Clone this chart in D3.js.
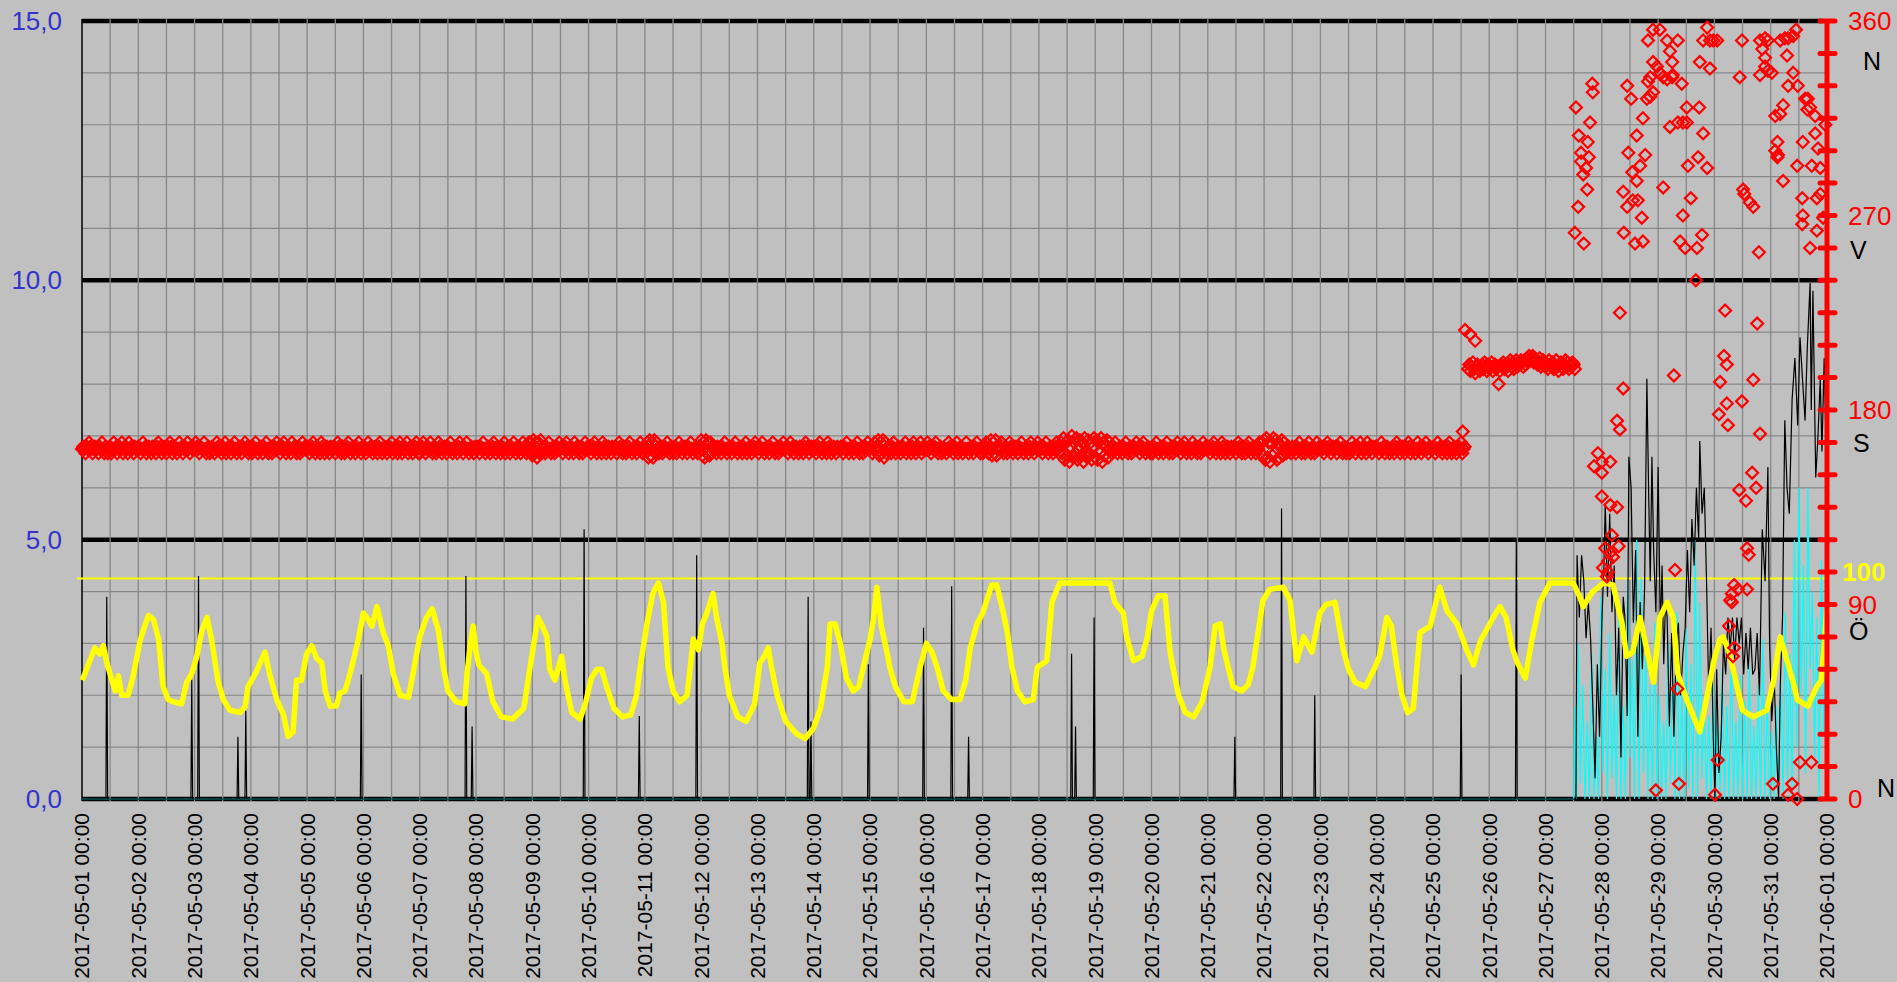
<!DOCTYPE html>
<html>
<head>
<meta charset="utf-8">
<script src="https://cdn.jsdelivr.net/npm/d3@7"></script>
<style>
body { margin: 0; background: #c0c0c0; }
svg { display: block; }
text { font-family: "Liberation Sans", Arial, sans-serif; }
</style>
</head>
<body>
<svg id="chart" width="1897" height="982"></svg>
<script>
// ---- data (time = days after 2017-05-01 00:00) ----
var dateLabels = ["2017-05-01 00:00","2017-05-02 00:00","2017-05-03 00:00","2017-05-04 00:00","2017-05-05 00:00",
  "2017-05-06 00:00","2017-05-07 00:00","2017-05-08 00:00","2017-05-09 00:00","2017-05-10 00:00","2017-05-11 00:00",
  "2017-05-12 00:00","2017-05-13 00:00","2017-05-14 00:00","2017-05-15 00:00","2017-05-16 00:00","2017-05-17 00:00",
  "2017-05-18 00:00","2017-05-19 00:00","2017-05-20 00:00","2017-05-21 00:00","2017-05-22 00:00","2017-05-23 00:00",
  "2017-05-24 00:00","2017-05-25 00:00","2017-05-26 00:00","2017-05-27 00:00","2017-05-28 00:00","2017-05-29 00:00",
  "2017-05-30 00:00","2017-05-31 00:00","2017-06-01 00:00"];
var speedTicks = [0, 5, 10, 15];
var speedMinor = [1, 2, 3, 4, 6, 7, 8, 9, 11, 12, 13, 14];
var dirTicks = [0, 90, 180, 270, 360];
var dirMinor = [0,15,30,45,60,75,90,105,120,135,150,165,180,195,210,225,240,255,270,285,300,315,330,345,360];
var compass = ["N", "Ö", "S", "V", "N"]; // for 0, 90, 180, 270, 360
var humRef = 102, humRefLabel = "100";

// humidity %, drawn on the 0-360 axis
var humidity = [
[0.006,55],[0.08,60],[0.23,70],[0.32,67],[0.38,71],[0.44,63],[0.59,50],[0.645,57],[0.705,48],[0.82,48],[0.91,57],[0.97,65],
[1.03,73],[1.09,78],[1.18,85],[1.27,83],[1.36,74],[1.44,52],[1.53,46],[1.62,45],[1.77,44],[1.86,54],[1.95,58],[2.04,66],
[2.13,78],[2.22,84],[2.30,74],[2.42,54],[2.51,46],[2.63,41],[2.81,40],[2.90,43],[2.95,52],[3.10,59],[3.25,68],[3.34,57],
[3.46,46],[3.58,39],[3.66,29],[3.75,31],[3.81,55],[3.90,55],[3.99,67],[4.08,71],[4.17,65],[4.26,63],[4.32,50],[4.41,43],
[4.52,43],[4.58,49],[4.67,50],[4.73,55],[4.82,64],[4.91,74],[5.00,86],[5.06,84],[5.15,80],[5.24,89],[5.35,77],[5.44,71],
[5.53,58],[5.65,48],[5.8,47],[5.88,58],[6.0,75],[6.12,84],[6.22,88],[6.33,78],[6.42,61],[6.5,50],[6.65,45],[6.8,44],
[6.84,58],[6.9,72],[6.95,80],[7.0,68],[7.05,62],[7.19,58],[7.3,45],[7.45,38],[7.65,37],[7.85,42],[7.96,61],[8.1,84],
[8.18,80],[8.26,75],[8.31,60],[8.4,55],[8.52,66],[8.58,55],[8.7,40],[8.85,37],[8.95,45],[9.05,56],[9.15,60],[9.23,60],
[9.32,52],[9.45,42],[9.6,38],[9.75,39],[9.85,48],[9.91,60],[10.03,80],[10.14,95],[10.24,100],[10.33,91],[10.41,61],
[10.5,50],[10.62,45],[10.75,48],[10.86,74],[10.95,69],[11.02,81],[11.1,86],[11.21,95],[11.28,83],[11.37,72],[11.42,61],
[11.5,48],[11.65,38],[11.8,36],[11.95,44],[12.04,63],[12.12,66],[12.19,70],[12.25,61],[12.35,48],[12.5,36],[12.7,30],
[12.85,28],[13.0,33],[13.12,42],[13.24,61],[13.29,81],[13.38,81],[13.47,72],[13.58,56],[13.7,50],[13.8,52],[13.88,61],
[14.0,74],[14.06,83],[14.12,98],[14.2,80],[14.3,68],[14.35,61],[14.45,52],[14.6,45],[14.75,45],[14.89,61],[15.0,72],
[15.1,68],[15.19,61],[15.3,50],[15.45,46],[15.6,46],[15.7,55],[15.78,70],[15.9,81],[16.0,86],[16.16,99],[16.25,99],
[16.36,87],[16.44,77],[16.52,61],[16.62,50],[16.75,45],[16.9,46],[16.97,61],[17.14,64],[17.23,91],[17.37,100],[18.26,100],
[18.35,91],[18.5,86],[18.56,75],[18.68,64],[18.83,66],[18.92,74],[19.0,87],[19.12,94],[19.24,94],[19.33,68],[19.38,61],
[19.48,48],[19.6,40],[19.75,38],[19.9,45],[20.04,61],[20.13,80],[20.22,81],[20.28,70],[20.36,61],[20.45,52],[20.6,50],
[20.72,53],[20.8,61],[20.98,92],[21.1,97],[21.34,98],[21.46,92],[21.58,64],[21.7,75],[21.85,68],[21.99,86],[22.1,90],
[22.26,91],[22.4,70],[22.5,60],[22.62,54],[22.8,52],[22.97,61],[23.05,66],[23.18,84],[23.26,80],[23.36,61],[23.45,48],
[23.55,40],[23.65,42],[23.77,77],[23.95,80],[24.12,98],[24.25,87],[24.43,81],[24.6,69],[24.72,62],[24.84,73],[25.07,84],
[25.19,89],[25.3,84],[25.42,69],[25.5,63],[25.64,56],[25.76,74],[25.9,91],[26.08,100],[26.49,100],[26.6,94],[26.67,89],
[26.76,93],[26.84,96],[27.03,100],[27.2,99],[27.36,81],[27.44,66],[27.55,68],[27.68,84],[27.8,69],[27.92,54],[28.03,84],
[28.16,91],[28.27,84],[28.35,58],[28.45,50],[28.6,40],[28.74,31],[28.85,45],[29.0,65],[29.1,74],[29.15,75],[29.25,69],
[29.35,58],[29.5,41],[29.69,38],[29.93,41],[30.05,55],[30.17,75],[30.29,64],[30.4,54],[30.47,46],[30.66,43],[30.82,52],
[30.9,55],[31.0,88]];

// wind speed m/s (left axis)
var speed = [
[0,0],[0.425,0],[0.44,3.9],[0.455,0],[1.935,0],[1.95,2.3],[1.965,0],[2.055,0],[2.07,4.3],[2.085,0],[2.755,0],[2.77,1.2],
[2.785,0],[2.895,0],[2.91,1.7],[2.925,0],[4.945,0],[4.96,2.4],[4.975,0],[6.805,0],[6.82,4.3],[6.835,0],[6.915,0],[6.93,1.4],
[6.945,0],[8.905,0],[8.92,5.2],[8.935,0],[9.885,0],[9.9,1.6],[9.915,0],[10.905,0],[10.92,4.7],[10.935,0],[12.885,0],
[12.9,3.9],[12.915,0],[12.935,0],[12.95,1.5],[12.965,0],[13.955,0],[13.97,2.6],[13.985,0],[14.935,0],[14.95,3.3],
[14.965,0],[15.435,0],[15.45,4.1],[15.465,0],[15.735,0],[15.75,1.2],[15.765,0],[17.565,0],[17.58,2.8],[17.595,0],
[17.635,0],[17.65,1.4],[17.665,0],[17.965,0],[17.98,3.5],[17.995,0],[20.465,0],[20.48,1.2],[20.495,0],[21.295,0],
[21.31,5.6],[21.325,0],[21.885,0],[21.9,2.0],[21.915,0],[24.485,0],[24.5,2.4],[24.515,0],[25.465,0],[25.48,4.96],
[25.495,0],[26.54,0],[26.56,4.7],[26.6,3.5],[26.64,4.7],[26.68,4.2],[26.72,3.1],[26.76,3.8],[26.8,3.1],[26.84,1.8],
[26.88,0.4],[26.92,2.6],[26.96,1.2],[27.0,3.4],[27.04,4.6],[27.06,5.7],[27.1,3.9],[27.14,5.5],[27.18,3.6],[27.22,4.5],
[27.26,2.0],[27.3,3.3],[27.34,0.8],[27.38,3.9],[27.41,3.5],[27.45,1.6],[27.48,6.6],[27.52,6.0],[27.56,3.4],[27.6,4.8],
[27.64,1.2],[27.68,3.8],[27.72,2.5],[27.76,4.1],[27.8,8.1],[27.83,6.0],[27.86,4.2],[27.89,6.6],[27.92,4.8],[27.96,3.6],
[28.0,6.4],[28.04,3.2],[28.07,4.5],[28.1,2.6],[28.13,3.8],[28.16,3.5],[28.2,1.4],[28.24,3.2],[28.28,1.2],[28.32,2.9],
[28.36,3.4],[28.4,2.0],[28.44,2.8],[28.48,3.3],[28.52,4.8],[28.56,3.6],[28.6,5.4],[28.64,4.5],[28.68,6.0],[28.72,5.0],
[28.74,6.9],[28.78,5.5],[28.82,6.0],[28.86,4.2],[28.9,2.0],[28.94,3.3],[28.98,1.2],[29.01,0],[29.04,2.5],[29.08,0.5],
[29.12,1.2],[29.16,3.0],[29.2,2.4],[29.24,3.5],[29.28,2.9],[29.32,3.5],[29.36,2.7],[29.4,3.5],[29.44,3.0],[29.48,3.5],
[29.52,2.4],[29.56,3.2],[29.6,2.5],[29.64,3.3],[29.68,2.4],[29.72,2.5],[29.76,3.2],[29.8,2.0],[29.85,5.2],[29.9,4.2],
[29.95,6.4],[29.98,3.0],[30.02,1.5],[30.06,2.4],[30.1,1.0],[30.14,0],[30.17,2.2],[30.21,3.5],[30.25,7.3],[30.29,6.0],
[30.33,5.5],[30.38,7.7],[30.43,8.5],[30.48,7.2],[30.52,8.9],[30.57,8.0],[30.61,7.3],[30.65,8.7],[30.7,9.95],[30.72,7.5],
[30.75,9.8],[30.8,6.2],[30.84,7.0],[30.88,8.1],[30.91,6.7],[30.95,8.5],[30.98,7.0],[31.0,6.5]];

// gust m/s (left axis), zero until the last days
var gust = [
[0,0],[26.5,0],[26.52,1.8],[26.55,0],[26.58,3.0],[26.62,0.3],[26.66,2.2],[26.7,0],[26.74,1.5],[26.78,0],[26.82,2.8],
[26.86,0],[26.9,1.2],[26.94,0],[26.98,3.9],[27.02,0.5],[27.06,2.5],[27.1,0],[27.14,3.2],[27.18,0.4],[27.22,2.0],[27.26,0],
[27.3,3.5],[27.34,0],[27.38,1.8],[27.42,0],[27.46,4.2],[27.5,0.8],[27.54,2.7],[27.58,0],[27.62,5.0],[27.66,0],[27.7,4.26],
[27.74,0.5],[27.78,3.0],[27.82,0],[27.86,2.2],[27.9,0],[27.94,3.4],[27.98,0],[28.02,2.0],[28.06,0],[28.1,1.5],[28.14,0],
[28.18,3.0],[28.22,0.3],[28.26,2.4],[28.3,0],[28.34,3.6],[28.38,0],[28.42,2.1],[28.46,0],[28.5,3.3],[28.54,0.2],[28.58,2.6],
[28.62,0],[28.66,5.0],[28.7,0],[28.74,3.8],[28.78,0.4],[28.82,2.0],[28.86,0],[28.9,1.6],[28.94,0],[28.98,2.2],[29.02,0],
[29.06,1.4],[29.1,0],[29.14,2.5],[29.18,0],[29.22,1.8],[29.26,0],[29.3,2.9],[29.34,0],[29.38,1.5],[29.42,0],[29.46,2.4],
[29.5,0],[29.54,1.9],[29.58,0],[29.62,2.6],[29.66,0],[29.7,1.4],[29.74,0],[29.78,2.2],[29.82,0],[29.86,3.1],[29.9,0],
[29.94,2.0],[29.98,0],[30.02,1.3],[30.06,0],[30.1,1.8],[30.14,0],[30.18,2.4],[30.22,0],[30.26,3.6],[30.3,0.3],[30.34,2.8],
[30.38,0],[30.42,5.0],[30.46,1.0],[30.5,6.0],[30.54,2.0],[30.58,4.5],[30.62,0.5],[30.66,6.0],[30.7,2.5],[30.74,4.0],
[30.78,0.8],[30.82,3.5],[30.86,0],[30.9,4.6],[30.94,1.2],[30.98,3.0],[31.0,0]];

// wind direction every 30 min from 2017-05-01 00:00 (degrees), one row per day
var dirBand = [
162,163,162,160,163,162,165,163,162,160,162,163,162,162,160,163,162,165,162,160,163,162,160,162,163,160,162,165,162,163,160,162,163,162,165,160,162,163,162,160,165,162,163,162,160,163,162,162,
163,162,160,162,165,162,163,160,162,163,162,160,163,162,162,160,163,165,162,163,160,162,163,162,160,163,162,165,163,160,162,163,162,160,162,165,162,163,160,162,163,162,165,162,160,163,162,163,
162,165,163,162,160,163,162,162,165,162,160,162,163,160,162,163,162,160,162,165,163,162,162,160,163,162,165,160,162,163,162,160,163,162,165,162,160,162,163,162,160,163,162,165,162,163,160,162,
162,160,163,162,165,162,160,162,163,162,160,163,162,165,162,160,162,163,160,162,163,162,165,162,163,160,162,163,165,162,160,162,163,162,160,165,162,163,162,160,162,163,160,162,165,162,163,162,
163,162,160,162,163,165,162,160,163,162,162,160,165,163,162,160,162,163,162,160,163,162,162,163,160,162,165,163,162,160,163,162,160,162,163,165,162,160,162,163,162,160,163,162,165,162,160,163,
162,163,160,162,165,162,163,162,160,162,163,162,160,163,165,162,160,162,163,162,160,162,163,162,165,160,162,163,162,160,163,165,162,160,162,163,162,165,160,162,163,162,160,162,163,165,162,160,
160,162,163,165,162,160,162,163,162,165,162,160,163,162,160,162,165,163,162,160,162,163,162,160,163,162,165,162,160,162,163,162,160,163,165,162,162,160,163,162,165,162,160,162,163,162,160,163,
162,163,162,160,163,162,165,162,160,162,163,162,160,162,163,165,162,160,163,162,162,160,163,162,165,160,162,163,162,160,163,162,165,162,160,163,162,163,160,162,165,162,163,160,162,165,165,160,
159,166,160,165,158,165,160,166,160,163,162,160,163,162,165,162,160,162,163,160,162,163,162,165,162,163,160,162,163,165,162,160,162,163,162,160,165,162,163,162,160,162,163,160,162,165,162,163,
163,162,160,162,163,165,162,160,163,162,162,160,165,163,162,160,162,163,162,160,163,162,162,163,160,162,165,163,162,160,163,162,160,162,163,165,162,160,162,163,162,160,163,162,165,162,160,162,
163,162,165,158,166,159,165,158,166,160,165,162,160,163,162,160,162,163,162,165,162,160,163,162,160,162,163,160,162,165,162,163,160,162,163,162,160,163,162,165,162,160,162,163,162,160,163,162,
166,159,165,158,166,160,165,159,165,160,162,163,162,160,163,162,162,160,163,162,165,162,160,162,163,162,160,163,162,165,162,160,162,163,162,160,163,162,165,160,162,163,162,160,162,163,165,162,
162,160,163,162,165,162,160,162,163,162,160,163,162,165,162,160,162,163,160,162,163,162,165,162,162,163,160,162,165,162,163,160,162,163,162,160,163,162,162,160,163,165,162,163,160,162,163,162,
163,162,160,162,163,165,162,160,163,162,162,160,165,163,162,160,162,163,162,160,163,162,162,163,162,160,163,162,165,162,160,162,163,162,160,163,162,165,162,160,162,163,160,162,163,162,165,162,
162,163,160,162,165,162,163,166,159,165,160,166,158,165,160,162,163,162,160,163,165,162,160,162,163,162,160,162,163,162,165,160,162,163,162,160,163,165,162,160,162,163,162,165,160,162,163,162,
162,165,163,162,160,163,162,163,165,162,160,162,163,160,162,162,162,160,162,165,163,162,163,160,163,162,165,160,162,163,162,160,162,162,165,162,160,162,163,162,160,163,162,165,162,162,160,162,
160,162,163,165,162,160,162,166,159,165,160,166,159,162,163,162,165,162,160,163,162,160,162,165,163,162,160,162,163,162,160,163,162,165,162,160,162,163,162,160,163,165,162,162,160,163,162,165,
162,163,162,160,163,162,165,162,160,162,163,162,160,162,163,165,162,160,163,165,160,167,157,165,159,166,156,163,168,158,165,160,167,157,162,166,159,165,156,167,160,158,166,160,165,157,163,167,
158,166,157,165,160,167,156,165,159,163,166,158,165,162,160,163,162,165,162,160,162,163,162,160,163,162,165,162,160,162,163,160,162,163,162,165,162,163,160,162,163,165,162,160,162,163,162,160,
162,160,163,162,165,162,160,162,163,162,160,163,162,165,162,160,162,163,160,162,163,162,165,162,163,160,162,163,165,162,160,162,163,162,160,165,162,163,162,160,162,163,160,162,165,162,163,162,
163,162,160,162,163,165,162,160,163,162,162,160,165,163,162,160,162,163,162,160,163,162,162,163,160,162,165,163,162,160,163,162,160,162,163,165,162,160,162,163,162,160,163,162,165,160,165,159,
166,157,167,158,165,156,165,159,167,160,166,157,165,158,163,166,159,165,162,160,162,163,162,160,163,162,162,160,163,162,165,162,160,163,162,160,163,162,165,162,160,162,163,160,162,165,162,163,
162,163,162,160,163,162,165,163,162,160,162,163,162,163,160,163,162,165,162,160,163,162,160,162,162,160,162,165,162,163,160,162,163,162,165,160,162,163,162,160,165,162,163,162,160,163,162,163,
163,162,160,162,165,162,163,160,162,163,162,160,162,162,162,160,163,165,162,163,160,162,163,162,160,163,162,165,163,160,162,162,162,160,162,165,162,163,160,162,163,162,165,162,160,163,162,162,
162,163,160,162,165,162,163,162,160,162,163,162,160,163,165,162,160,162,163,162,160,162,163,162,165,160,162,163];

// wind direction every 30 min after the shift, from day 24.625
var dirShift = [
199,201,198,200,202,199,197,200,201,199,198,200,201,199,202,200,198,201,199,200,202,198,200,201,
199,200,192,198,201,200,202,199,201,200,198,201,203,200,202,199,201,203,200,202,201,203,202,200,
203,201,204,202,205,203,204,205,202,204,203,201,202,204,200,201,203,202,200,201,199,203,201,200,
202,199,201,203,200,198,201,202,200,199,201,203,200,202,199,201,200,202,201,199];

// wind direction, single readings [day, degrees]
var dirLate = [
[24.53,170],[24.57,217],[24.66,215],[24.75,212],
[26.52,262],[26.54,320],[26.58,274],[26.59,307],[26.63,299],[26.63,295],[26.67,289],[26.68,257],[26.72,292],[26.74,282],
[26.75,304],[26.77,297],[26.79,313],[26.83,331],[26.84,327],[26.86,154],[26.93,160],[27.0,156],[27.0,151],[27.0,140],
[27.02,107],[27.06,116],[27.09,103],[27.11,110],[27.11,105],[27.15,156],[27.15,136],[27.15,114],[27.18,122],[27.2,112],
[27.27,175],[27.27,135],[27.3,117],[27.32,225],[27.32,171],[27.38,190],[27.38,281],[27.39,262],[27.45,330],[27.45,274],
[27.47,299],[27.52,324],[27.54,290],[27.55,277],[27.59,257],[27.62,307],[27.62,286],[27.64,277],[27.68,293],[27.71,269],
[27.73,315],[27.73,258],[27.77,298],[27.8,324],[27.82,332],[27.82,351],[27.86,325],[27.86,334],[27.91,327],[27.91,356],
[27.91,341],[27.96,4],[27.98,339],[28.03,356],[28.03,336],[28.09,334],[28.09,283],[28.16,333],[28.16,351],[28.21,346],
[28.21,311],[28.25,334],[28.25,341],[28.26,335],[28.28,196],[28.3,106],[28.34,51],[28.35,351],[28.35,313],[28.37,7],
[28.39,258],[28.42,331],[28.44,313],[28.44,270],[28.48,255],[28.51,313],[28.51,320],[28.53,293],[28.58,278],[28.67,240],
[28.69,255],[28.71,297],[28.73,320],[28.74,341],[28.78,261],[28.8,308],[28.8,351],[28.87,292],[28.87,357],[28.92,338],
[28.92,351],[28.98,351],[29.01,2],[29.05,351],[29.06,18],[29.08,178],[29.1,193],[29.17,205],[29.19,226],[29.22,201],
[29.22,183],[29.24,173],[29.26,80],[29.28,92],[29.31,95],[29.31,91],[29.33,66],[29.35,99],[29.35,70],[29.42,97],
[29.44,143],[29.45,334],[29.49,184],[29.49,351],[29.51,282],[29.53,280],[29.56,138],[29.58,116],[29.58,97],[29.61,113],
[29.63,276],[29.67,151],[29.69,194],[29.69,274],[29.74,144],[29.76,220],[29.79,253],[29.81,169],[29.81,351],[29.81,335],
[29.85,347],[29.9,352],[29.9,343],[29.9,339],[29.95,351],[29.95,337],[30.02,336],[30.04,7],[30.08,316],[30.08,300],
[30.12,304],[30.12,297],[30.13,298],[30.17,351],[30.17,317],[30.22,321],[30.22,286],[30.25,352],[30.29,344],[30.31,352],
[30.31,330],[30.31,2],[30.38,7],[30.4,353],[30.4,336],[30.45,356],[30.47,293],[30.47,0],[30.48,330],[30.52,17],[30.56,278],
[30.56,266],[30.57,304],[30.57,270],[30.61,324],[30.65,319],[30.66,324],[30.7,320],[30.7,255],[30.72,17],[30.73,293],
[30.79,316],[30.79,308],[30.82,278],[30.82,263],[30.84,301],[30.88,292],[30.88,280],[30.93,269],[30.97,312]];

// ---- drawing ----
var svg = d3.select("#chart");
var t0 = Date.UTC(2017, 4, 1);
function day(d) { return new Date(t0 + d * 864e5); }
var parse = d3.utcParse("%Y-%m-%d %H:%M");

var plotL = 82, plotR = 1827, plotT = 21, plotB = 799;
var x = d3.scaleUtc().domain([parse(dateLabels[0]), parse(dateLabels[dateLabels.length - 1])]).range([plotL, plotR]);
var yS = d3.scaleLinear().domain([0, 15]).range([plotB, plotT]);
var yD = d3.scaleLinear().domain([0, 360]).range([plotB, plotT]);

// thick black lines at 0,5,10,15
svg.append("g").selectAll("line").data(speedTicks).enter().append("line")
  .attr("x1", plotL).attr("x2", plotR - 4)
  .attr("y1", function(d) { return yS(d); }).attr("y2", function(d) { return yS(d); })
  .attr("stroke", "#000").attr("stroke-width", 4.5);

// minor horizontal grid
svg.append("g").selectAll("line").data(speedMinor).enter().append("line")
  .attr("x1", plotL).attr("x2", plotR)
  .attr("y1", function(d) { return yS(d); }).attr("y2", function(d) { return yS(d); })
  .attr("stroke", "#878787").attr("stroke-width", 1.2);

// vertical grid every 12 hours (drawn across the black lines)
var halfDays = d3.utcHour.every(12).range(x.domain()[0], new Date(+x.domain()[1] + 1));
svg.append("g").selectAll("line").data(halfDays.slice(1)).enter().append("line")
  .attr("x1", function(d) { return x(d); }).attr("x2", function(d) { return x(d); })
  .attr("y1", plotT - 2).attr("y2", plotB + 2)
  .attr("stroke", "#878787").attr("stroke-width", 1.3);

// left axis line
svg.append("line").attr("x1", plotL).attr("x2", plotL).attr("y1", plotT - 2).attr("y2", plotB + 2)
  .attr("stroke", "#000").attr("stroke-width", 1.5);

// humidity 100 reference line
svg.append("line").attr("x1", plotL - 5).attr("x2", plotR - 2)
  .attr("y1", yD(humRef)).attr("y2", yD(humRef))
  .attr("stroke", "#ffff00").attr("stroke-width", 2);

var lineS = d3.line().x(function(d) { return x(day(d[0])); }).y(function(d) { return yS(d[1]); });
var lineD = d3.line().x(function(d) { return x(day(d[0])); }).y(function(d) { return yD(d[1]); });

svg.append("path").attr("d", lineS(gust)).attr("fill", "none")
  .attr("stroke", "#00ffff").attr("stroke-width", 1.2);
svg.append("path").attr("d", lineS(speed)).attr("fill", "none")
  .attr("stroke", "#000").attr("stroke-width", 1.2);
svg.append("path").attr("d", lineD(humidity)).attr("fill", "none")
  .attr("stroke", "#ffff00").attr("stroke-width", 5.5).attr("stroke-linejoin", "round");

// wind direction diamonds
var dirPoints = dirBand.map(function(v, i) { return [i / 48, v]; })
  .concat(dirShift.map(function(v, i) { return [24.625 + i / 48, v]; }))
  .concat(dirLate);
var diamond = d3.symbol().type(d3.symbolDiamond2).size(90);
svg.append("g").selectAll("path").data(dirPoints).enter().append("path")
  .attr("transform", function(d) { return "translate(" + x(day(d[0])) + "," + yD(d[1]) + ")"; })
  .attr("d", diamond)
  .attr("fill", "none").attr("stroke", "#ff0000").attr("stroke-width", 2.2);

// right (direction) axis
svg.append("line").attr("x1", plotR).attr("x2", plotR).attr("y1", plotT).attr("y2", plotB)
  .attr("stroke", "#ff0000").attr("stroke-width", 5);
svg.append("g").selectAll("line").data(dirMinor).enter().append("line")
  .attr("x1", plotR - 7).attr("x2", plotR + 8)
  .attr("y1", function(d) { return yD(d); }).attr("y2", function(d) { return yD(d); })
  .attr("stroke", "#ff0000").attr("stroke-width", 5).attr("stroke-linecap", "round");

// left labels
svg.append("g").selectAll("text").data(speedTicks).enter().append("text")
  .attr("x", 62).attr("y", function(d) { return yS(d); }).attr("dy", "0.35em")
  .attr("text-anchor", "end").attr("font-size", 26).attr("fill", "#3333cc")
  .text(function(d) { return d3.format(".1f")(d).replace(".", ","); });

// right labels
svg.append("g").selectAll("text").data(dirTicks).enter().append("text")
  .attr("x", 1848).attr("y", function(d) { return yD(d); }).attr("dy", "0.35em")
  .attr("font-size", 26).attr("fill", "#ff0000")
  .text(function(d) { return d; });

svg.append("text").attr("x", 1842).attr("y", yD(humRef) - 7).attr("dy", "0.35em")
  .attr("font-size", 26).attr("font-weight", "bold").attr("fill", "#ffff00").text(humRefLabel);

// compass letters
var compassPos = [[1877, -2], [1849, 35], [1853, 42], [1850, 43], [1863, 49]];
svg.append("g").selectAll("text").data(dirTicks).enter().append("text")
  .attr("x", function(d, i) { return compassPos[i][0]; })
  .attr("y", function(d, i) { return yD(d) + compassPos[i][1]; })
  .attr("font-size", 25).attr("fill", "#000")
  .text(function(d, i) { return compass[i]; });

// date labels
svg.append("g").selectAll("text").data(dateLabels).enter().append("text")
  .attr("transform", function(d) { return "translate(" + x(parse(d)) + ",813) rotate(-90)"; })
  .attr("dy", "0.35em").attr("text-anchor", "end")
  .attr("font-size", 21).attr("fill", "#000")
  .text(function(d) { return d; });
</script>
</body>
</html>
